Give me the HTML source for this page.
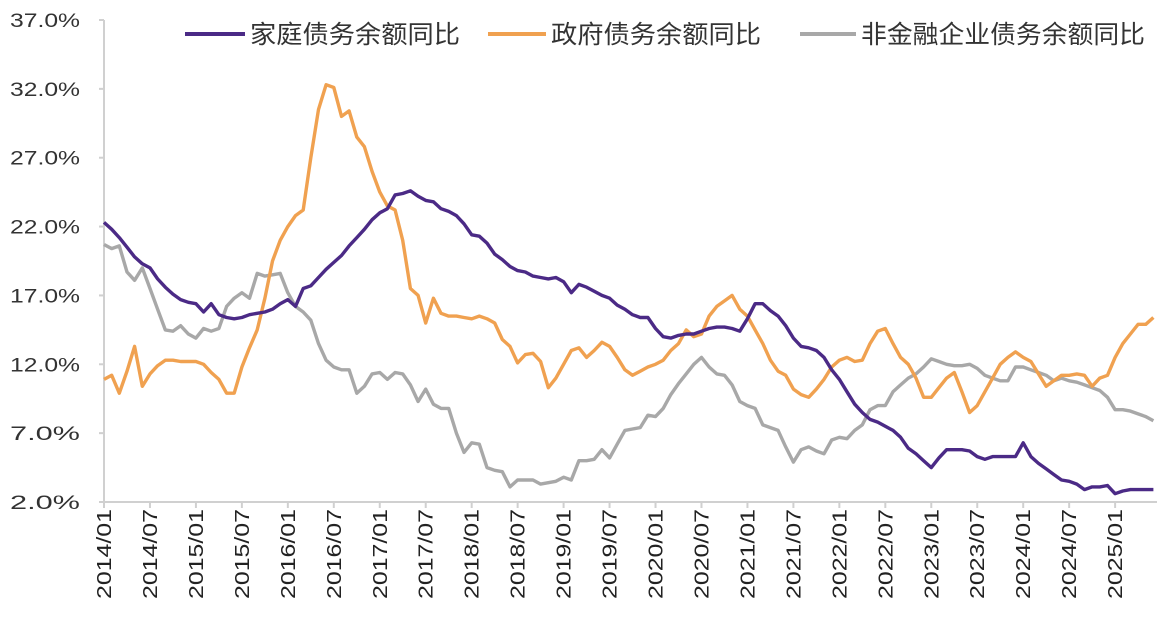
<!DOCTYPE html>
<html><head><meta charset="utf-8">
<style>
html,body{margin:0;padding:0;background:#fff;}
svg{display:block;font-family:"Liberation Sans","Noto Sans CJK SC",sans-serif;}
</style></head>
<body>
<svg id="chart" width="1173" height="621" viewBox="0 0 1173 621">
<g id="axes"></g>
<g id="series"></g>
<g id="legend">
  <line x1="185" y1="34" x2="245" y2="34" stroke="#4b2a86" stroke-width="4"/>
  <text x="250" y="43" font-size="25" textLength="210" lengthAdjust="spacingAndGlyphs" fill="#333">家庭债务余额同比</text>
  <line x1="488" y1="34" x2="546" y2="34" stroke="#f0a150" stroke-width="4"/>
  <text x="551" y="43" font-size="25" textLength="210" lengthAdjust="spacingAndGlyphs" fill="#333">政府债务余额同比</text>
  <line x1="800" y1="34" x2="856" y2="34" stroke="#a8a8a8" stroke-width="4"/>
  <text x="861" y="43" font-size="25" textLength="284" lengthAdjust="spacingAndGlyphs" fill="#333">非金融企业债务余额同比</text>
</g>
</svg>
<script>
const yTicks = [2, 7, 12, 17, 22, 27, 32, 37];
const xTickLabels = ["2014/01","2014/07","2015/01","2015/07","2016/01","2016/07","2017/01","2017/07","2018/01","2018/07","2019/01","2019/07","2020/01","2020/07","2021/01","2021/07","2022/01","2022/07","2023/01","2023/07","2024/01","2024/07","2025/01"];
const household = [
22.3,21.8,21.2,20.5,19.8,19.3,19.0,18.2,17.6,17.1,16.7,16.5,
16.4,15.8,16.4,15.6,15.4,15.3,15.4,15.6,15.7,15.8,16.0,16.4,
16.7,16.2,17.5,17.7,18.3,18.9,19.4,19.9,20.6,21.2,21.8,22.5,
23.0,23.3,24.3,24.4,24.6,24.2,23.9,23.8,23.3,23.1,22.8,22.2,
21.4,21.3,20.8,20.0,19.6,19.1,18.8,18.7,18.4,18.3,18.2,18.3,
18.0,17.2,17.8,17.6,17.3,17.0,16.8,16.3,16.0,15.6,15.4,15.4,
14.6,14.0,13.9,14.1,14.2,14.2,14.4,14.6,14.7,14.7,14.6,14.4,
15.3,16.4,16.4,15.9,15.5,14.8,13.9,13.3,13.2,13.0,12.5,11.6,
10.9,10.0,9.1,8.5,8.0,7.8,7.5,7.2,6.7,5.9,5.5,5.0,
4.5,5.2,5.8,5.8,5.8,5.7,5.3,5.1,5.3,5.3,5.3,5.3,
6.3,5.3,4.8,4.4,4.0,3.6,3.5,3.3,2.9,3.1,3.1,3.2,
2.6,2.8,2.9,2.9,2.9,2.9];
const government = [
10.9,11.2,9.9,11.5,13.3,10.4,11.3,11.9,12.3,12.3,12.2,12.2,
12.2,12.0,11.4,10.9,9.9,9.9,11.8,13.2,14.5,16.8,19.5,21.0,
22.0,22.8,23.2,27.0,30.5,32.3,32.1,30.0,30.4,28.5,27.8,26.0,
24.5,23.5,23.2,21.0,17.5,17.0,15.0,16.8,15.7,15.5,15.5,15.4,
15.3,15.5,15.3,15.0,13.8,13.3,12.1,12.7,12.8,12.2,10.3,11.0,
12.0,13.0,13.2,12.5,13.0,13.6,13.3,12.5,11.6,11.2,11.5,11.8,
12.0,12.3,13.0,13.5,14.5,14.0,14.2,15.5,16.2,16.6,17.0,16.0,
15.5,14.5,13.5,12.3,11.5,11.2,10.2,9.8,9.6,10.2,10.9,11.8,
12.3,12.5,12.2,12.3,13.5,14.4,14.6,13.5,12.5,12.0,11.0,9.6,
9.6,10.3,11.0,11.4,10.0,8.5,9.0,10.0,11.0,12.0,12.5,12.9,
12.5,12.2,11.3,10.4,10.8,11.2,11.2,11.3,11.2,10.4,11.0,11.2,
12.5,13.5,14.2,14.9,14.9,15.4];
const corporate = [
20.7,20.4,20.6,18.7,18.1,19.0,17.5,16.0,14.5,14.4,14.8,14.2,
13.9,14.6,14.4,14.6,16.2,16.8,17.2,16.8,18.6,18.4,18.5,18.6,
17.2,16.2,15.8,15.2,13.5,12.3,11.8,11.6,11.6,9.9,10.4,11.3,
11.4,10.9,11.4,11.3,10.5,9.3,10.2,9.1,8.8,8.8,7.0,5.6,
6.3,6.2,4.5,4.3,4.2,3.1,3.6,3.6,3.6,3.3,3.4,3.5,
3.8,3.6,5.0,5.0,5.1,5.8,5.2,6.2,7.2,7.3,7.4,8.3,
8.2,8.8,9.8,10.6,11.3,12.0,12.5,11.8,11.3,11.2,10.5,9.3,
9.0,8.8,7.6,7.4,7.2,6.0,4.9,5.8,6.0,5.7,5.5,6.5,
6.7,6.6,7.2,7.6,8.7,9.0,9.0,10.0,10.5,11.0,11.3,11.8,
12.4,12.2,12.0,11.9,11.9,12.0,11.7,11.2,11.0,10.8,10.8,11.8,
11.8,11.6,11.4,11.2,10.8,11.0,10.8,10.7,10.5,10.3,10.1,9.6,
8.7,8.7,8.6,8.4,8.2,7.9];

const NS = "http://www.w3.org/2000/svg";
const X0 = 104, DX = 7.66, XEND = 1157;
const Y0 = 502, YTOP = 20, VMIN = 2, VMAX = 37;
function xs(i){ return X0 + i*DX; }
function ys(v){ return Y0 - (v-VMIN)/(VMAX-VMIN)*(Y0-YTOP); }
function mk(tag, attrs, parent){ const e=document.createElementNS(NS,tag); for(const k in attrs) e.setAttribute(k, attrs[k]); parent.appendChild(e); return e; }

const axes = document.getElementById('axes');
const yAxis = mk('line',{x1:X0,y1:YTOP,x2:X0,y2:Y0,stroke:'#d0d0d0','stroke-width':2},axes);


const xAxis = mk('line',{x1:X0,y1:Y0,x2:XEND,y2:Y0,stroke:'#d0d0d0','stroke-width':2},axes);



yTicks.forEach(v=>{
  const y = ys(v);
  const t = mk('line',{x1:X0-5,y1:y,x2:X0,y2:y,stroke:'#d0d0d0','stroke-width':2},axes);
  
  
  const l = mk('text',{x:80,y:y+7,'font-size':19,'text-anchor':'end',fill:'#333',textLength:70,lengthAdjust:'spacingAndGlyphs'},axes);
  l.textContent = v.toFixed(1)+'%';
  
  
});
xTickLabels.forEach((lab,k)=>{
  const x = xs(k*6);
  const t = mk('line',{x1:x,y1:Y0,x2:x,y2:Y0+6,stroke:'#d0d0d0','stroke-width':2},axes);
  
  
  const l = mk('text',{x:0,y:0,'font-size':20,'text-anchor':'end',fill:'#222',textLength:90,lengthAdjust:'spacingAndGlyphs',transform:`translate(${x+7},${Y0+7}) rotate(-90)`},axes);
  l.textContent = lab;
  
  
});

const series = document.getElementById('series');
function drawLine(data, color, name){
  const pts = data.map((v,i)=>xs(i).toFixed(1)+','+ys(v).toFixed(1)).join(' ');
  const p = mk('polyline',{points:pts,fill:'none',stroke:color,'stroke-width':3.4,'stroke-linejoin':'round'},series);
  
  
}
drawLine(corporate,'#a8a8a8','corporate-debt-line');
drawLine(government,'#f0a150','government-debt-line');
drawLine(household,'#4b2a86','household-debt-line');
</script>
</body></html>
